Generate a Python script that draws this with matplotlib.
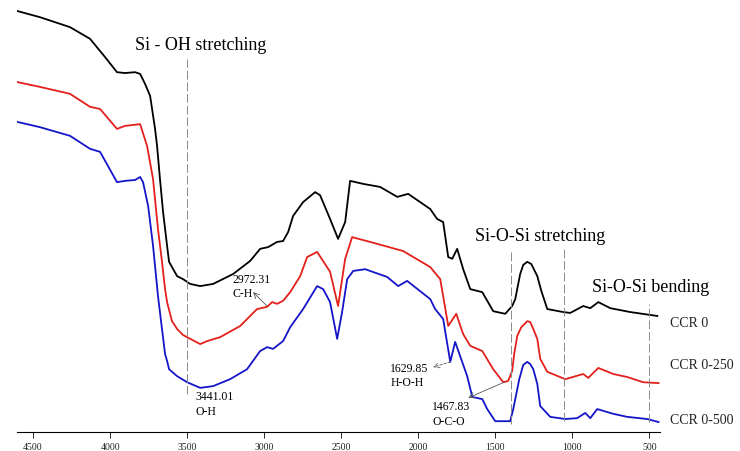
import matplotlib
matplotlib.use('Agg')
import matplotlib.pyplot as plt

plt.rcParams['font.family'] = ['Liberation Serif', 'DejaVu Serif']

# FTIR spectra, wavenumber (cm-1) vs transmittance (%), read point by point
wn_ccr0 = [4600, 4455, 4260, 4130, 4033, 3955, 3903, 3838, 3805, 3773, 3740, 3708,
           3695, 3676, 3656, 3643, 3630, 3617, 3565, 3526, 3480, 3415, 3331, 3201,
           3091, 3026, 2974, 2916, 2877, 2844, 2812, 2747, 2669, 2637, 2572, 2520,
           2474, 2442, 2357, 2247, 2136, 2065, 1922, 1877, 1838, 1805, 1779, 1747,
           1708, 1662, 1584, 1513, 1435, 1390, 1370, 1338, 1318, 1292, 1266, 1227,
           1201, 1162, 1058, 1013, 929, 883, 831, 753, 623, 448]
t_ccr0 = [97.2, 95.8, 93.5, 90.8, 86.6, 83.1, 82.9, 83.1, 82.7, 80.4, 77.6, 70.0,
          66.1, 58.4, 50.8, 46.9, 43.0, 39.3, 36.0, 35.3, 34.2, 33.7, 34.2, 36.5,
          39.5, 42.3, 42.7, 43.9, 44.1, 46.2, 49.9, 53.1, 55.4, 54.7, 49.2, 44.6,
          48.5, 58.0, 57.3, 56.6, 54.3, 55.0, 51.5, 49.2, 48.5, 40.4, 40.0, 42.3,
          37.6, 33.0, 32.3, 27.9, 27.3, 29.1, 30.7, 36.5, 38.6, 39.3, 38.8, 36.0,
          32.6, 28.4, 27.7, 27.5, 29.1, 28.6, 30.0, 28.6, 27.7, 26.8]

wn_ccr250 = [4600, 4455, 4260, 4130, 4065, 3955, 3903, 3805, 3760, 3721, 3689, 3663,
             3643, 3630, 3598, 3565, 3526, 3500, 3415, 3370, 3286, 3155, 3046, 2981,
             2948, 2916, 2877, 2831, 2766, 2721, 2656, 2572, 2520, 2474, 2429, 2312,
             2098, 1922, 1857, 1805, 1753, 1708, 1662, 1584, 1513, 1448, 1416, 1390,
             1377, 1357, 1331, 1292, 1273, 1253, 1227, 1208, 1162, 1045, 929, 896,
             831, 734, 643, 539, 440]
t_ccr250 = [80.8, 79.7, 78.1, 75.1, 74.6, 70.0, 70.7, 71.1, 66.1, 58.4, 46.9, 39.3,
            33.0, 30.0, 25.6, 23.8, 22.4, 21.9, 20.3, 21.0, 21.9, 24.5, 28.4, 28.9,
            30.0, 29.6, 30.3, 32.3, 36.0, 40.4, 41.6, 37.0, 29.1, 40.0, 45.0, 43.9,
            41.8, 38.1, 35.3, 24.5, 27.3, 22.6, 19.9, 18.7, 14.5, 11.5, 11.8, 14.1,
            18.0, 22.2, 24.2, 25.6, 25.4, 23.8, 21.5, 16.9, 13.9, 12.2, 13.4, 12.5,
            14.8, 13.4, 12.7, 11.5, 11.3]

wn_ccr500 = [4600, 4455, 4260, 4130, 4065, 3955, 3903, 3838, 3805, 3786, 3753, 3721,
             3689, 3663, 3643, 3630, 3617, 3565, 3500, 3415, 3331, 3221, 3111, 3026,
             2981, 2942, 2877, 2831, 2747, 2656, 2617, 2572, 2526, 2494, 2461, 2422,
             2344, 2201, 2130, 2072, 1922, 1890, 1838, 1792, 1760, 1682, 1649, 1584,
             1552, 1500, 1403, 1383, 1370, 1344, 1318, 1292, 1273, 1253, 1227, 1208,
             1143, 1045, 968, 916, 883, 838, 734, 643, 513, 440]
t_ccr500 = [71.6, 70.4, 68.4, 65.4, 64.7, 57.7, 58.0, 58.2, 58.9, 57.7, 52.2, 43.0,
            31.4, 23.8, 18.0, 16.4, 14.5, 12.9, 11.5, 10.2, 10.6, 12.2, 14.5, 18.7,
            19.6, 19.2, 21.0, 24.2, 28.4, 33.7, 33.0, 30.0, 21.5, 27.7, 35.3, 37.2,
            37.6, 35.8, 33.7, 34.9, 30.7, 28.4, 26.1, 16.2, 20.8, 12.9, 8.1, 7.6,
            5.3, 2.5, 2.5, 5.3, 7.6, 12.2, 15.5, 16.2, 15.7, 14.5, 11.1, 6.0,
            3.5, 3.0, 3.2, 4.4, 3.2, 5.3, 4.2, 3.5, 3.0, 2.3]

series = [('CCR 0', wn_ccr0, t_ccr0, 'black', 25.4),
          ('CCR 0-250', wn_ccr250, t_ccr250, '#e3201c', 15.5),
          ('CCR 0-500', wn_ccr500, t_ccr500, '#1414c8', 3.0)]

# band positions marked with dashed guides: (wavenumber, low, high)
guides = [(3500, 8.8, 86.1), (1396, 1.8, 42.3), (1052, 2.5, 42.3), (500, 2.3, 29.6)]

ticks = [4500, 4000, 3500, 3000, 2500, 2000, 1500, 1000, 500]

fig = plt.figure(figsize=(7.4, 4.52), dpi=100)
ax = fig.add_axes([0.023, 0.042, 0.869, 0.958])

for name, wn, t, col, ylab in series:
    ax.plot(wn, t, color=col, lw=1.3, solid_joinstyle='round')
    ax.text(364, ylab, name, fontsize=10, va='center', ha='left', color='#222222')

for w, lo, hi in guides:
    ax.plot([w, w], [lo, hi], color='#8a8a8a', lw=0.7, dashes=(9, 3))

ax.text(3409, 89.6, 'Si - OH stretching', fontsize=13, ha='center', va='center')
ax.text(1208, 45.3, 'Si-O-Si stretching', fontsize=13, ha='center', va='center')
ax.text(494, 33.7, 'Si-O-Si bending', fontsize=13, ha='center', va='center')

# peak annotations
ax.text(3208, 33.7, '2972.31\nC-H', fontsize=8.5, va='center', ha='left', linespacing=1.3)
ax.text(3448, 6.6, '3441.01\nO-H', fontsize=8.5, va='center', ha='left', linespacing=1.3)
ax.text(2182, 13.2, '1629.85\nH-O-H', fontsize=8.5, va='center', ha='left', linespacing=1.3)
ax.text(1909, 4.2, '1467.83\nO-C-O', fontsize=8.5, va='center', ha='left', linespacing=1.3)

arrow = dict(arrowstyle='->', color='#555555', lw=0.6, shrinkA=0, shrinkB=0)
ax.annotate('', xy=(3072, 32.3), xytext=(2981, 29.1), arrowprops=arrow)
ax.annotate('', xy=(1903, 15.0), xytext=(1792, 16.2),
            arrowprops=dict(arrow, linestyle=(0, (3, 2))))
ax.annotate('', xy=(1675, 7.9), xytext=(1442, 11.5), arrowprops=arrow)

ax.set_xlim(4604, 430)
ax.set_ylim(0, 100)
ax.set_xticks(ticks)
ax.set_xticklabels([str(t) for t in ticks])
ax.tick_params(axis='x', direction='out', length=4, width=0.6, labelsize=7,
               pad=3, labelcolor='#222222')
ax.set_yticks([])
for s in ['top', 'right', 'left']:
    ax.spines[s].set_visible(False)
ax.spines['bottom'].set_linewidth(0.8)

fig.savefig('out.png', dpi=100)
